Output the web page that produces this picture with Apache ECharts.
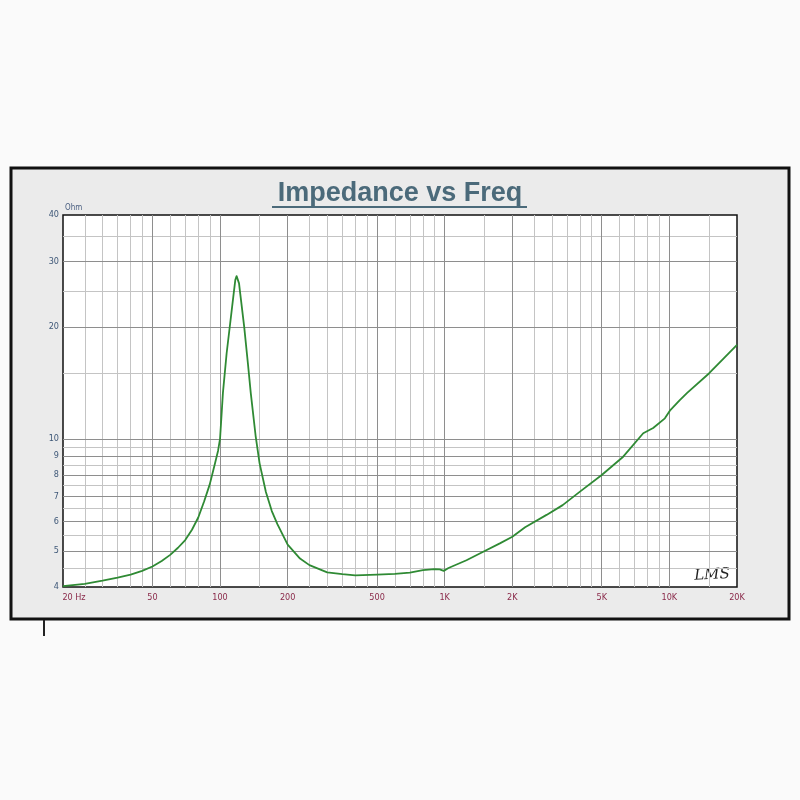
<!DOCTYPE html>
<html>
<head>
<meta charset="utf-8">
<script src="https://cdn.jsdelivr.net/npm/echarts@6/dist/echarts.min.js"></script>
<style>html,body{margin:0;padding:0;background:#fafafa;}#c{width:800px;height:800px;}</style>
</head>
<body>
<div id="c"></div>
<script>
// Curve data (Hz, Ohm)
const freqs = [20,25,30,35,40,45,50,55,60,65,70,75,80,85,90,95,98,100,103,107,111,115,117,118.5,120,121.5,123,128,133,137,144,150,160,170,180,200,227,250,300,350,400,500,600,700,800,900,950,990,1040,1250,1440,1760,2000,2280,2840,3350,4000,5000,6230,7650,8470,9550,10100,11100,12000,15000,17500,20000];
const impedance = [4.02,4.08,4.16,4.24,4.32,4.42,4.54,4.7,4.88,5.1,5.35,5.7,6.15,6.8,7.55,8.6,9.3,10.0,13.3,17.0,20.5,24.6,26.8,27.4,27.1,26.2,24.6,20.1,16.0,13.3,10.2,8.6,7.2,6.4,5.9,5.2,4.77,4.58,4.38,4.33,4.30,4.32,4.34,4.37,4.44,4.47,4.46,4.42,4.5,4.72,4.93,5.24,5.46,5.79,6.25,6.64,7.22,8.0,8.96,10.36,10.7,11.36,11.96,12.7,13.3,15.0,16.5,17.9];

// Tick labels
const xTickValues = [20,50,100,200,500,1000,2000,5000,10000,20000];
const xTickLabels = ['20 Hz','50','100','200','500','1K','2K','5K','10K','20K'];
const yTickValues = [4,5,6,7,8,9,10,20,30,40];
const yTickLabels = ['4','5','6','7','8','9','10','20','30','40'];

// Grid lines
const xGridMajor = [50,100,200,500,1000,2000,5000,10000];
const xGridMinor = [25,30,35,40,45,60,70,80,90,150,250,300,350,400,450,600,700,800,900,1500,2500,3000,3500,4000,4500,6000,7000,8000,9000,15000];
const yGridMajor = [5,6,7,8,9,10,20,30];
const yGridMinor = [4.5,5.5,6.5,7.5,8.5,9.5,15,25,35];

const chart = echarts.init(document.getElementById('c'), null, {renderer:'canvas'});

const gridLines = [];
xGridMinor.forEach(v => gridLines.push({xAxis: v, lineStyle:{color:'#c4c4c4', width:1, type:'solid'}}));
yGridMinor.forEach(v => gridLines.push({yAxis: v, lineStyle:{color:'#c4c4c4', width:1, type:'solid'}}));
xGridMajor.forEach(v => gridLines.push({xAxis: v, lineStyle:{color:'#8e8e8e', width:1, type:'solid'}}));
yGridMajor.forEach(v => gridLines.push({yAxis: v, lineStyle:{color:'#8e8e8e', width:1, type:'solid'}}));

const titleColor = '#4b6a7a';
const narrow = '"Liberation Sans Narrow", "DejaVu Sans Condensed", sans-serif';

chart.setOption({
  backgroundColor: '#fafafa',
  animation: false,
  graphic: [
    {type:'rect', z:-10, shape:{x:11, y:168, width:778, height:451}, style:{fill:'#ebebeb', stroke:'#111', lineWidth:3}},
    {type:'line', z:-10, shape:{x1:44, y1:620, x2:44, y2:636}, style:{stroke:'#222', lineWidth:2}},
    {type:'text', x:400, y:194, style:{text:'Impedance vs Freq', font:'bold 27px "Liberation Sans", Arial, sans-serif', fill:titleColor, textAlign:'center', textVerticalAlign:'middle'}},
    {type:'rect', shape:{x:272, y:206, width:255, height:2}, style:{fill:titleColor}},
    {type:'text', x:65, y:208, style:{text:'Ohm', font:'8px ' + narrow, fill:'#4a5f80', textAlign:'left', textVerticalAlign:'middle'}},
    {type:'text', x:712, y:575, rotation:0.05, style:{text:'LMS', font:'italic 15px "DejaVu Serif", serif', fill:'#222', textAlign:'center', textVerticalAlign:'middle'}}
  ],
  grid: {left:63, right:63, top:215, bottom:213, show:true, backgroundColor:'#ffffff', borderColor:'#111', borderWidth:1.5},
  xAxis: {
    type:'log', logBase:10, min:20, max:20000,
    axisLine:{show:false}, axisTick:{show:false}, splitLine:{show:false}, minorSplitLine:{show:false},
    axisLabel:{
      customValues: xTickValues,
      margin:6,
      color:'#8a2a4a',
      fontSize:9,
      fontFamily: narrow,
      formatter: function(v){
        const i = xTickValues.findIndex(t => Math.abs(t - v) / t < 1e-6);
        if (i === 0) return '{a|' + xTickLabels[0] + '}';
        return i >= 0 ? xTickLabels[i] : '';
      },
      rich:{a:{padding:[0,0,0,22], color:'#8a2a4a', fontSize:9, fontFamily: narrow}}
    }
  },
  yAxis: {
    type:'log', logBase:10, min:4, max:40,
    axisLine:{show:false}, axisTick:{show:false}, splitLine:{show:false}, minorSplitLine:{show:false},
    axisLabel:{
      customValues: yTickValues,
      margin:4,
      color:'#3f5878',
      fontSize:9,
      fontFamily: narrow,
      formatter: function(v){
        const i = yTickValues.findIndex(t => Math.abs(t - v) / t < 1e-6);
        return i >= 0 ? yTickLabels[i] : '';
      }
    }
  },
  series: [
    {
      type:'line', name:'grid', data:[], silent:true, z:1,
      markLine:{silent:true, symbol:['none','none'], label:{show:false}, animation:false, data:gridLines}
    },
    {
      type:'line', name:'Impedance', z:5,
      data: freqs.map((f,i) => [f, impedance[i]]),
      showSymbol:false, symbol:'none',
      smooth:false,
      lineStyle:{color:'#2f8a34', width:1.8, join:'round'}
    }
  ]
});
</script>
</body>
</html>
